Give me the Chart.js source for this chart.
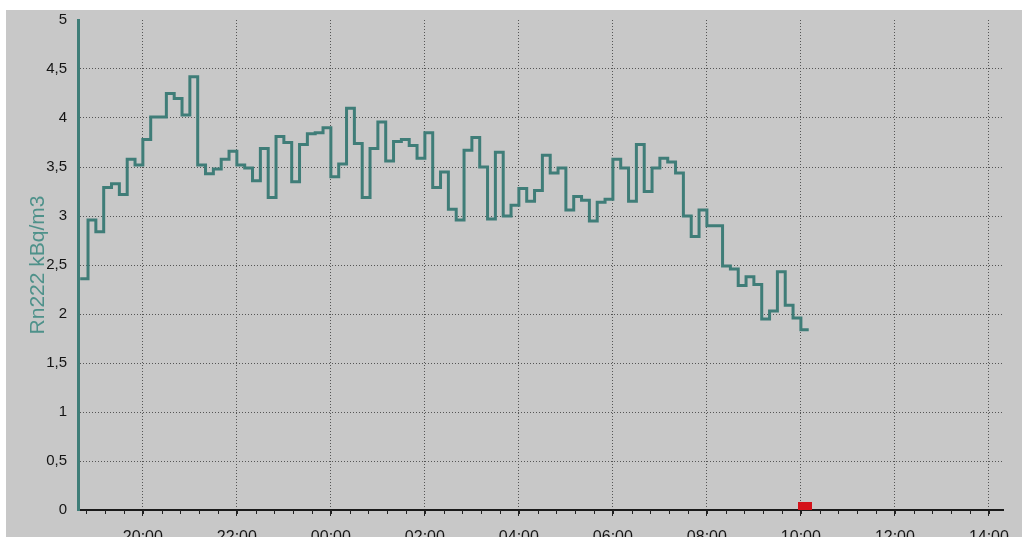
<!DOCTYPE html>
<html>
<head>
<meta charset="utf-8">
<script src="https://cdn.jsdelivr.net/npm/chart.js@4/dist/chart.umd.min.js"></script>
<style>
  html, body { margin: 0; padding: 0; background: #fff; }
  canvas { display: block; }
</style>
</head>
<body>
<canvas id="radonChart" width="1022" height="537"></canvas>
<script>
// Rn222 readings every 10 minutes, first one at 18:40 (hours past midnight run on as 24+)
const startHour = 18 + 40 / 60;
const stepHours = 10 / 60;
const rn222 = [
  2.36, 2.96, 2.84, 3.29, 3.33, 3.22, 3.58, 3.52, 3.78, 4.01,
  4.01, 4.25, 4.20, 4.03, 4.42, 3.52, 3.43, 3.48, 3.58, 3.66,
  3.52, 3.49, 3.36, 3.69, 3.19, 3.81, 3.75, 3.35, 3.73, 3.84,
  3.85, 3.90, 3.40, 3.53, 4.10, 3.74, 3.19, 3.69, 3.96, 3.56,
  3.76, 3.78, 3.72, 3.59, 3.85, 3.29, 3.45, 3.07, 2.96, 3.67,
  3.80, 3.50, 2.97, 3.65, 3.00, 3.11, 3.28, 3.15, 3.26, 3.62,
  3.44, 3.49, 3.06, 3.20, 3.16, 2.95, 3.14, 3.17, 3.58, 3.49,
  3.15, 3.73, 3.25, 3.49, 3.59, 3.55, 3.44, 3.00, 2.79, 3.06,
  2.90, 2.90, 2.49, 2.46, 2.29, 2.38, 2.30, 1.95, 2.03, 2.43,
  2.09, 1.96, 1.84
];

// time axis
const xMin = 18.62;
const xMax = 38.3;
const hourTicks = [20, 22, 24, 26, 28, 30, 32, 34, 36, 38];
const hourLabels = ['20:00', '22:00', '00:00', '02:00', '04:00', '06:00', '08:00', '10:00', '12:00', '14:00'];
const minorStep = 0.4;

// value axis
const yTicks = [0, 0.5, 1, 1.5, 2, 2.5, 3, 3.5, 4, 4.5, 5];
const yLabels = ['0', '0,5', '1', '1,5', '2', '2,5', '3', '3,5', '4', '4,5', '5'];

// red marker on the time axis (10:05)
const markerHour = 34 + 5 / 60;

const TEAL = '#3f7d78';
const FONT = 'Liberation Sans, Arial, sans-serif';

// each reading holds until the next one; repeat the last to close its step
const points = rn222.map((v, i) => ({ x: startHour + i * stepHours, y: v }));
points.push({ x: startHour + rn222.length * stepHours, y: rn222[rn222.length - 1] });

const backdrop = {
  id: 'backdrop',
  beforeDraw(chart) {
    const ctx = chart.ctx;
    ctx.save();
    ctx.fillStyle = '#ffffff';
    ctx.fillRect(0, 0, chart.width, chart.height);
    ctx.fillStyle = '#c8c8c8';
    ctx.fillRect(6, 10, chart.width - 6, chart.height - 10);
    ctx.restore();
  }
};

const minorTicks = {
  id: 'minorTicks',
  afterDraw(chart) {
    const x = chart.scales.x;
    const ctx = chart.ctx;
    const y0 = chart.chartArea.bottom;
    ctx.save();
    ctx.strokeStyle = '#222';
    ctx.lineWidth = 1;
    ctx.beginPath();
    const first = hourTicks[0] - Math.floor((hourTicks[0] - xMin) / minorStep) * minorStep;
    for (let h = first; h <= xMax; h += minorStep) {
      const px = Math.round(x.getPixelForValue(h)) + 0.5;
      ctx.moveTo(px, y0);
      ctx.lineTo(px, y0 + 4);
    }
    ctx.stroke();
    ctx.restore();
  }
};

const nowMarker = {
  id: 'nowMarker',
  afterDatasetsDraw(chart) {
    const { x, y } = chart.scales;
    const ctx = chart.ctx;
    const cx = x.getPixelForValue(markerHour);
    const by = y.getPixelForValue(0);
    ctx.save();
    ctx.fillStyle = '#d4131b';
    ctx.fillRect(Math.round(cx - 7), by - 8, 14, 8);
    ctx.restore();
  }
};

new Chart(document.getElementById('radonChart'), {
  type: 'line',
  data: {
    datasets: [{
      label: 'Rn222',
      data: points,
      stepped: true,
      borderColor: TEAL,
      borderWidth: 3,
      pointRadius: 0,
      fill: false
    }]
  },
  options: {
    responsive: false,
    animation: false,
    layout: { padding: { left: 0, top: 18, right: 19, bottom: 0 } },
    plugins: {
      legend: { display: false },
      tooltip: { enabled: false }
    },
    scales: {
      x: {
        type: 'linear',
        min: xMin,
        max: xMax,
        afterFit(scale) { scale.height = 27; },
        afterBuildTicks(scale) { scale.ticks = hourTicks.map(v => ({ value: v })); },
        ticks: {
          autoSkip: false,
          maxRotation: 0,
          padding: 12,
          color: '#151515',
          font: { family: FONT, size: 16 },
          callback: (v, i) => hourLabels[i]
        },
        grid: {
          color: '#555',
          lineWidth: 1,
          drawTicks: true,
          tickLength: 6,
          tickColor: '#222',
          tickWidth: 1
        },
        border: { display: true, color: '#1a1a1a', width: 2, dash: [1, 2] }
      },
      y: {
        type: 'linear',
        min: 0,
        max: 5,
        afterFit(scale) { scale.width = 78; },
        afterBuildTicks(scale) { scale.ticks = yTicks.map(v => ({ value: v })); },
        ticks: {
          autoSkip: false,
          padding: 11,
          color: '#151515',
          font: { family: FONT, size: 15 },
          callback: (v, i) => yLabels[i]
        },
        grid: {
          color: ctx => (ctx.tick && (ctx.tick.value === 0 || ctx.tick.value === 5)) ? 'rgba(0,0,0,0)' : '#555',
          lineWidth: 1,
          drawTicks: false
        },
        border: { display: true, color: TEAL, width: 3, dash: [1, 2] },
        title: {
          display: true,
          text: 'Rn222 kBq/m3',
          color: '#4e918a',
          font: { family: FONT, size: 21 },
          padding: { top: 26, bottom: 0 }
        }
      }
    }
  },
  plugins: [backdrop, minorTicks, nowMarker]
});
</script>
</body>
</html>
